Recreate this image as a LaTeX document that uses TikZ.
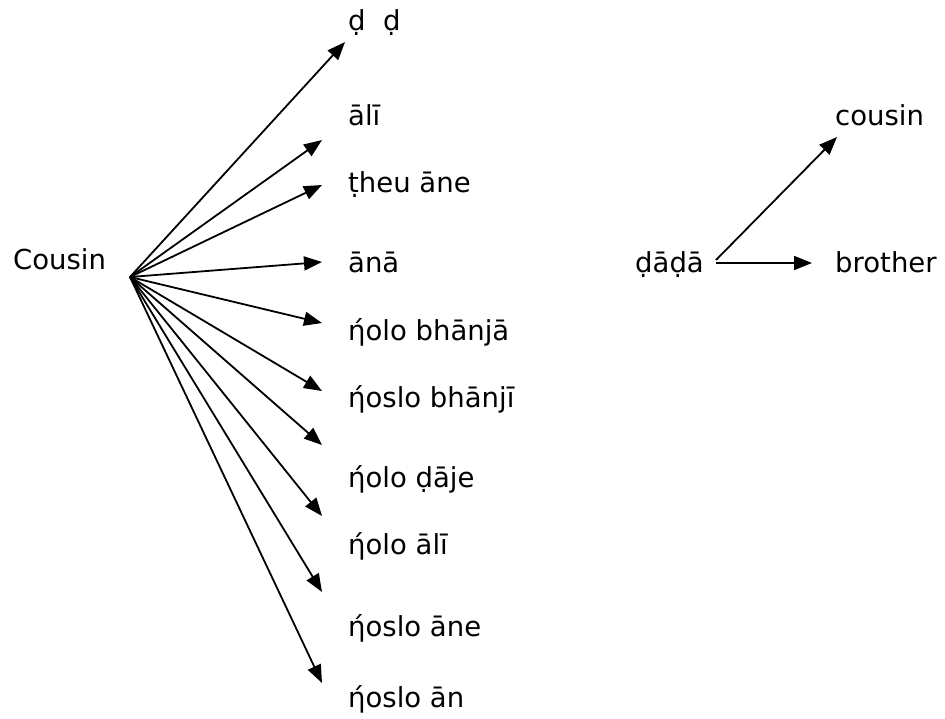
\documentclass[tikz,border=0pt]{standalone}
\usepackage{fontspec}
\setmainfont{DejaVu Sans}
\usetikzlibrary{arrows.meta,positioning}

\begin{document}
\begin{tikzpicture}
[
	              x = 1pt,
	              y = -1pt,
	           >= {Triangle[length=18pt,width=14pt]},
	   word/.style = { draw=none, fill=none, anchor=base west, inner sep=0pt,
	                   font=\fontsize{27.5}{33}\selectfont },
	   link/.style = { ->, line width=1.8pt }
]
\useasboundingbox (0,0) rectangle (945,718);

    % left fan
    \node (Cousin)      at (13,269) [word]   {Cousin};
    \coordinate (CousinHub) at (130,277);

    \foreach \n/\base/\tx/\ty/\txt in {
        1/30/345/42/{ḍ\ \ ḍ},
        2/125/322/140/{ālī},
        3/192/322/185/{ṭheu āne},
        4/272/322/262/{ānā},
        5/340/322/323/{ήolo bhānjā},
        6/407/322/391/{ήoslo bhānjī},
        7/487/322/445/{ήolo ḍāje},
        8/554/322/516/{ήolo ālī},
        9/636/322/592/{ήoslo āne},
        10/707/322/683/{ήoslo ān}}
    {
        \node (Word\n) at (348,\base) [word] {\txt};
        \coordinate (Tip\n) at (\tx,\ty);
        \draw[link] (CousinHub) -- (Tip\n);
    }

    % right pair
    \node (Dada)        at (635,272) [word]  {ḍāḍā};
    \node (cousin)      at (835,125) [word]  {cousin};
    \node (brother)     at (835,272) [word]  {brother};

    \coordinate (DadaOut)    at (716,260);
    \coordinate (CousinTip)  at (837,137);
    \coordinate (BrotherTip) at (812,263);

    \draw[link] (DadaOut) -- (CousinTip);
    \draw[link] (DadaOut |- BrotherTip) -- (BrotherTip);

\end{tikzpicture}
\end{document}
